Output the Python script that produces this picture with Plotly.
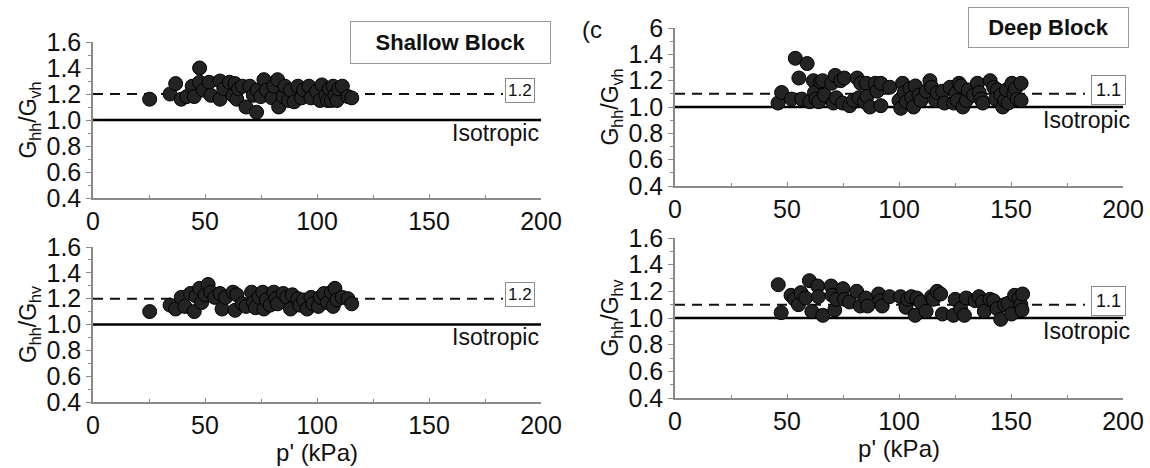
import plotly.graph_objects as go

# ---------------- data ----------------
# Shallow block, Ghh/Gvh
sh_vh_p = [25.3, 34.4, 36.9, 39.4, 41.9, 44.3, 45.2, 47.6, 47.6, 49.3, 51.8, 52.6, 56.7, 56.7, 58.4,
           60.9, 62.5, 63.4, 64.2, 65.0, 66.7, 68.3, 70.0, 71.6, 73.0, 73.3, 74.9, 76.3, 77.4, 79.9,
           80.7, 82.4, 82.9, 84.9, 85.7, 87.3, 88.2, 89.8, 91.5, 93.1, 94.0, 96.4, 97.3, 99.8, 101.4,
           102.2, 103.9, 104.7, 105.5, 106.4, 107.2, 108.0, 108.9, 109.7, 111.3, 113.8, 115.5]
sh_vh_r = [1.16, 1.20, 1.28, 1.16, 1.18, 1.26, 1.18, 1.40, 1.29, 1.23, 1.29, 1.19, 1.30, 1.16, 1.24,
           1.29, 1.19, 1.28, 1.16, 1.24, 1.26, 1.10, 1.26, 1.19, 1.06, 1.23, 1.18, 1.31, 1.23, 1.17,
           1.26, 1.31, 1.10, 1.18, 1.26, 1.15, 1.23, 1.14, 1.26, 1.17, 1.23, 1.26, 1.17, 1.22, 1.15,
           1.27, 1.19, 1.15, 1.24, 1.15, 1.26, 1.19, 1.15, 1.24, 1.26, 1.18, 1.17]

# Shallow block, Ghh/Ghv
sh_hv_p = [25.3, 34.4, 36.9, 39.4, 41.0, 43.5, 45.2, 46.0, 47.6, 48.5, 50.1, 51.4, 52.6, 54.3, 56.7,
           57.6, 59.2, 62.5, 63.4, 64.2, 66.7, 68.3, 70.8, 71.6, 72.5, 74.1, 75.8, 76.3, 77.4, 79.1,
           80.7, 81.6, 82.4, 84.9, 86.5, 88.2, 89.0, 91.5, 92.3, 94.0, 95.6, 97.3, 98.1, 100.6, 101.4,
           103.1, 104.7, 106.4, 107.2, 108.0, 108.9, 111.3, 113.8, 115.5]
sh_hv_r = [1.10, 1.15, 1.12, 1.21, 1.14, 1.24, 1.10, 1.22, 1.28, 1.17, 1.23, 1.31, 1.25, 1.21, 1.24,
           1.12, 1.21, 1.25, 1.11, 1.23, 1.16, 1.14, 1.25, 1.17, 1.13, 1.21, 1.25, 1.12, 1.19, 1.15,
           1.25, 1.20, 1.16, 1.24, 1.21, 1.12, 1.23, 1.20, 1.15, 1.19, 1.12, 1.21, 1.16, 1.14, 1.21,
           1.24, 1.17, 1.25, 1.14, 1.28, 1.19, 1.21, 1.20, 1.16]

# Deep block, Ghh/Gvh
dp_vh_p = [46.0, 47.6, 52.0, 53.7, 55.3, 56.6, 59.0, 60.2, 61.8, 62.3, 62.9, 64.2, 65.0, 65.9, 66.7,
           69.9, 70.7, 71.5, 72.0, 74.0, 75.6, 74.8, 78.0, 79.7, 81.3, 82.1, 82.9, 84.6, 85.4, 85.7,
           87.0, 89.4, 90.2, 91.9, 91.9, 95.9, 100.0, 100.8, 101.6, 102.4, 103.3, 104.9, 105.7, 106.5,
           107.3, 108.9, 109.8, 112.2, 113.8, 114.6, 116.3, 117.1, 119.5, 120.3, 122.8, 124.4, 125.2,
           126.0, 126.8, 127.6, 128.5, 130.1, 130.9, 133.3, 135.0, 135.8, 136.6, 137.4, 140.7, 142.3,
           143.9, 143.1, 145.5, 146.3, 147.2, 148.0, 148.8, 150.4, 151.2, 152.0, 152.8, 154.5, 154.5]
dp_vh_r = [1.03, 1.11, 1.06, 1.37, 1.22, 1.06, 1.33, 1.04, 1.20, 1.11, 1.06, 1.04, 1.19, 1.20, 1.09,
           1.18, 1.03, 1.24, 1.07, 1.20, 1.22, 1.03, 1.01, 1.05, 1.22, 1.07, 1.18, 1.04, 1.18, 1.08,
           1.00, 1.18, 1.12, 1.18, 1.01, 1.15, 1.05, 0.99, 1.18, 1.11, 1.04, 1.14, 1.07, 1.00,
           1.16, 1.09, 1.05, 1.12, 1.20, 1.15, 1.05, 1.11, 1.12, 1.03, 1.15, 1.03, 1.10,
           1.05, 1.18, 1.16, 1.00, 1.05, 1.13, 1.09, 1.18, 1.11, 1.06, 1.03, 1.20, 1.15,
           1.13, 1.06, 1.09, 1.00, 1.05, 1.13, 1.03, 1.18, 1.10, 1.14, 1.06, 1.18, 1.05]

# Deep block, Ghh/Ghv
dp_hv_p = [46.1, 47.4, 51.8, 53.4, 55.1, 56.2, 58.3, 60.0, 61.1, 63.7, 64.0, 66.0, 69.7, 70.2, 71.3,
           72.1, 75.0, 75.7, 77.9, 81.1, 82.7, 85.2, 86.0, 90.9, 91.7, 92.5, 95.8, 100.7, 103.1, 103.9,
           105.5, 107.2, 108.0, 109.6, 112.1, 114.5, 115.3, 117.0, 118.6, 119.4, 124.3, 125.1, 127.5,
           129.2, 130.0, 134.0, 135.7, 137.3, 138.1, 140.6, 142.2, 143.8, 145.4, 147.1, 148.7, 150.3,
           151.6, 153.6, 154.4, 154.9, 155.2]
dp_hv_r = [1.25, 1.04, 1.17, 1.14, 1.10, 1.19, 1.15, 1.28, 1.05, 1.24, 1.16, 1.02, 1.24, 1.17, 1.06,
           1.14, 1.22, 1.14, 1.12, 1.20, 1.09, 1.15, 1.09, 1.18, 1.13, 1.09, 1.16, 1.16, 1.08, 1.14,
           1.16, 1.02, 1.15, 1.12, 1.05, 1.16, 1.14, 1.20, 1.18, 1.03, 1.02, 1.14, 1.07,
           1.02, 1.15, 1.13, 1.16, 1.12, 1.05, 1.14, 1.13, 1.07, 0.99, 1.10, 1.11, 1.03,
           1.17, 1.15, 1.10, 1.06, 1.18]

shallow_ref = 1.2
deep_ref = 1.1
isotropic = 1.0
dash_end = 183
x_max = 200
y_ticks = [0.4, 0.6, 0.8, 1.0, 1.2, 1.4, 1.6]
y_ticktext = ["0.4", "0.6", "0.8", "1.0", "1.2", "1.4", "1.6"]
y_ticktext_cropped = ["0.4", "0.6", "0.8", "1.0", "1.2", "1.4", "6"]
x_ticks = [0, 50, 100, 150, 200]

# ---------------- layout helpers ----------------
W, H = 1150, 468
FONT = "Liberation Sans, Arial, sans-serif"
AX_GRAY = "#8a8a8a"
TXT = "#111111"


def px_x(a, b):
    return [a / W, b / W]


def px_y(top, bottom):
    return [1 - bottom / H, 1 - top / H]


panels = [
    # (data x, data y, ref, xdom, ydom, ytitle, xtitle, ticktext)
    (sh_vh_p, sh_vh_r, shallow_ref, px_x(93, 541), px_y(42, 198), "G<sub>hh</sub>/G<sub>vh</sub>", False, y_ticktext),
    (sh_hv_p, sh_hv_r, shallow_ref, px_x(93, 541), px_y(247, 402), "G<sub>hh</sub>/G<sub>hv</sub>", True, y_ticktext),
    (dp_vh_p, dp_vh_r, deep_ref, px_x(675, 1123), px_y(28, 186), "G<sub>hh</sub>/G<sub>vh</sub>", False, y_ticktext_cropped),
    (dp_hv_p, dp_hv_r, deep_ref, px_x(675, 1123), px_y(238, 398), "G<sub>hh</sub>/G<sub>hv</sub>", True, y_ticktext),
]

fig = go.Figure()
layout = dict(
    width=W, height=H, autosize=False,
    margin=dict(l=0, r=0, t=0, b=0, pad=0),
    paper_bgcolor="white", plot_bgcolor="white",
    showlegend=False,
    font=dict(family=FONT, size=25, color=TXT),
)
annotations = []

for i, (px, py, ref, xdom, ydom, ytitle, show_xtitle, ttext) in enumerate(panels, start=1):
    xa = "x" if i == 1 else f"x{i}"
    ya = "y" if i == 1 else f"y{i}"
    xkey = "xaxis" if i == 1 else f"xaxis{i}"
    ykey = "yaxis" if i == 1 else f"yaxis{i}"
    right = i > 2

    # reference (dashed) line
    fig.add_trace(go.Scatter(x=[0, dash_end], y=[ref, ref], mode="lines",
                             line=dict(color=TXT, width=2, dash="10px,7px"),
                             xaxis=xa, yaxis=ya, hoverinfo="skip"))
    # isotropic line
    fig.add_trace(go.Scatter(x=[0, x_max], y=[isotropic, isotropic], mode="lines",
                             line=dict(color="#000000", width=2.5),
                             xaxis=xa, yaxis=ya, hoverinfo="skip"))
    # data points
    fig.add_trace(go.Scatter(x=px, y=py, mode="markers",
                             marker=dict(size=14, color="#232323", line=dict(color="#000000", width=1)),
                             xaxis=xa, yaxis=ya, cliponaxis=False))

    layout[xkey] = dict(
        domain=xdom, anchor=ya, range=[0, x_max], automargin=False,
        tickmode="array", tickvals=x_ticks, ticks="inside", ticklen=4, tickcolor=AX_GRAY,
        minor=dict(dtick=25, tick0=0, ticks="inside", ticklen=3, tickcolor=AX_GRAY),
        showline=True, linecolor=AX_GRAY, linewidth=1.5,
        showgrid=False, zeroline=False,
        tickfont=dict(size=25, color=TXT),
        title=dict(text="p' (kPa)" if show_xtitle else "", font=dict(size=24), standoff=4),
    )
    layout[ykey] = dict(
        domain=ydom, anchor=xa, range=[0.4, 1.6], automargin=False,
        tickmode="array", tickvals=y_ticks, ticktext=ttext,
        ticks="outside", ticklen=5, tickcolor=AX_GRAY,
        minor=dict(dtick=0.1, tick0=0.4, ticks="outside", ticklen=3, tickcolor=AX_GRAY),
        showline=True, linecolor=AX_GRAY, linewidth=1.5,
        showgrid=False, zeroline=False,
        tickfont=dict(size=25, color=TXT),
        title=dict(text=ytitle, font=dict(size=23), standoff=3),
    )

    # boxed reference label
    annotations.append(dict(
        x=190.5 if not right else 193.5, y=ref, xref=xa, yref=ya,
        xanchor="center", yanchor="middle",
        text=f"{ref:.1f}", showarrow=False,
        font=dict(size=17 if not right else 18, color=TXT),
        bordercolor="#8a8a8a", borderwidth=1, borderpad=2 if not right else 4,
        bgcolor="white", yshift=4,
    ))
    # isotropic label
    annotations.append(dict(
        x=x_max, y=0.9, xref=xa, yref=ya, xanchor="right", yanchor="middle",
        xshift=0 if not right else 9,
        text="Isotropic", showarrow=False,
        font=dict(size=23, color=TXT),
    ))

# title boxes
annotations.append(dict(
    x=450 / W, y=1 - 42.5 / H, xref="paper", yref="paper",
    xanchor="center", yanchor="middle",
    text="<b>Shallow Block</b>", showarrow=False,
    font=dict(size=22, color=TXT),
    width=195, height=37, bordercolor="#999999", borderwidth=1, borderpad=2,
    bgcolor="white",
))
annotations.append(dict(
    x=1048 / W, y=1 - 27.5 / H, xref="paper", yref="paper",
    xanchor="center", yanchor="middle",
    text="<b>Deep Block</b>", showarrow=False,
    font=dict(size=22, color=TXT),
    width=155, height=35, bordercolor="#999999", borderwidth=1, borderpad=2,
    bgcolor="white",
))
# cropped panel letter
annotations.append(dict(
    x=580 / W, y=1 - 30 / H, xref="paper", yref="paper",
    xanchor="left", yanchor="middle",
    text="(c", showarrow=False, font=dict(size=24, color=TXT),
))

layout["annotations"] = annotations
fig.update_layout(**layout)
fig.write_html("out.html")
